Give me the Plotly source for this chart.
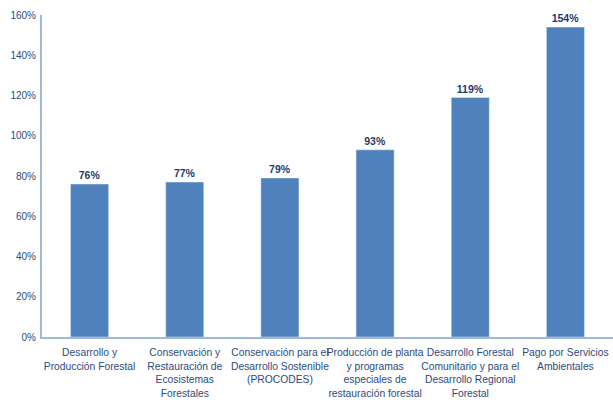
import plotly.graph_objects as go

categories = [
    "Desarrollo y<br>Producción Forestal",
    "Conservación y<br>Restauración de<br>Ecosistemas<br>Forestales",
    "Conservación para el<br>Desarrollo Sostenible<br>(PROCODES)",
    "Producción de planta<br>y programas<br>especiales de<br>restauración forestal",
    "Desarrollo Forestal<br>Comunitario y para el<br>Desarrollo Regional<br>Forestal",
    "Pago por Servicios<br>Ambientales",
]
values = [76, 77, 79, 93, 119, 154]
labels = [f"<b>{v}%</b>" for v in values]

font_family = "Liberation Sans, Arial, sans-serif"
text_color = "#2E4A7D"

fig = go.Figure(
    go.Bar(
        x=categories,
        y=values,
        text=labels,
        textposition="outside",
        textfont=dict(family=font_family, size=10.5, color="#1F3A6E"),
        marker=dict(color="#4F81BD"),
        cliponaxis=False,
        hoverinfo="skip",
    )
)

fig.update_layout(
    width=613,
    height=404,
    margin=dict(l=42, r=0, t=15, b=67, autoexpand=False),
    paper_bgcolor="white",
    plot_bgcolor="white",
    bargap=0.6,
    showlegend=False,
    font=dict(family=font_family, size=10, color=text_color),
)
fig.update_xaxes(
    showline=True,
    linecolor="#9DB9DE",
    linewidth=2,
    showgrid=False,
    ticks="",
    tickfont=dict(family=font_family, size=10.3, color=text_color),
    tickangle=0,
    ticklabelstandoff=5,
    automargin=False,
)
fig.update_yaxes(
    range=[0, 160],
    dtick=20,
    ticksuffix="%",
    showline=True,
    linecolor="#9DB9DE",
    linewidth=2,
    showgrid=False,
    zeroline=False,
    ticks="",
    tickfont=dict(family=font_family, size=10, color=text_color),
    ticklabelstandoff=2,
    automargin=False,
)

fig.write_html(
    "out.html",
    config={"displayModeBar": False},
    post_script="document.body.style.margin='0px';",
)
